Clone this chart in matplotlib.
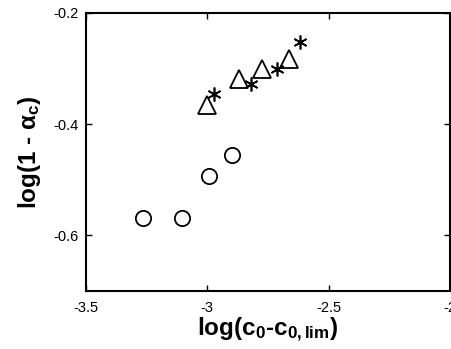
import matplotlib
matplotlib.use("Agg")
import matplotlib.pyplot as plt

plt.rcParams['font.family'] = ['Liberation Sans', 'DejaVu Sans']
plt.rcParams['mathtext.fontset'] = 'custom'
plt.rcParams['mathtext.rm'] = 'Liberation Sans:bold'
plt.rcParams['mathtext.bf'] = 'Liberation Sans:bold'
plt.rcParams['mathtext.it'] = 'Liberation Sans:bold'

# data
circ_x = [-3.267, -3.106, -2.993, -2.899]
circ_y = [-0.569, -0.569, -0.494, -0.455]
tri_x = [-3.003, -2.869, -2.774, -2.662]
tri_y = [-0.365, -0.318, -0.300, -0.283]
star_x = [-2.972, -2.822, -2.713, -2.619]
star_y = [-0.346, -0.328, -0.300, -0.252]

xticks = [-3.5, -3, -2.5, -2]
xticklabels = ['-3.5', '-3', '-2.5', '-2']
yticks = [-0.6, -0.4, -0.2]
yticklabels = ['-0.6', '-0.4', '-0.2']

fig = plt.figure(figsize=(4.51, 3.49), dpi=100)
ax = fig.add_axes([86 / 451, 58 / 349, 364 / 451, 278 / 349])

ax.plot(circ_x, circ_y, 'o', ms=11, mfc='none', mec='black', mew=1.3, clip_on=False)
ax.plot(tri_x, tri_y, '^', ms=13, mfc='none', mec='black', mew=1.3, clip_on=False)
ax.plot(star_x, star_y, linestyle='none', marker=(6, 2, 0), ms=10, mec='black', mew=1.2, clip_on=False)

ax.set_xlim(-3.5, -2)
ax.set_ylim(-0.7, -0.2)
ax.set_xticks(xticks)
ax.set_xticklabels(xticklabels)
ax.set_yticks(yticks)
ax.set_yticklabels(yticklabels)
ax.tick_params(direction='in', top=True, right=True, length=4, width=1, labelsize=10.5)
ax.tick_params(axis='x', pad=7)
ax.tick_params(axis='y', pad=5)
for s in ax.spines.values():
    s.set_linewidth(1.5)

ax.set_xlabel(r'log(c$_0$-c$_{0,lim}$)', fontsize=17.5, fontweight='bold', labelpad=1)
ax.set_ylabel(r'log(1 - $\alpha_c$)', fontsize=17.5, fontweight='bold', labelpad=8)

fig.savefig('out.png', dpi=100)
